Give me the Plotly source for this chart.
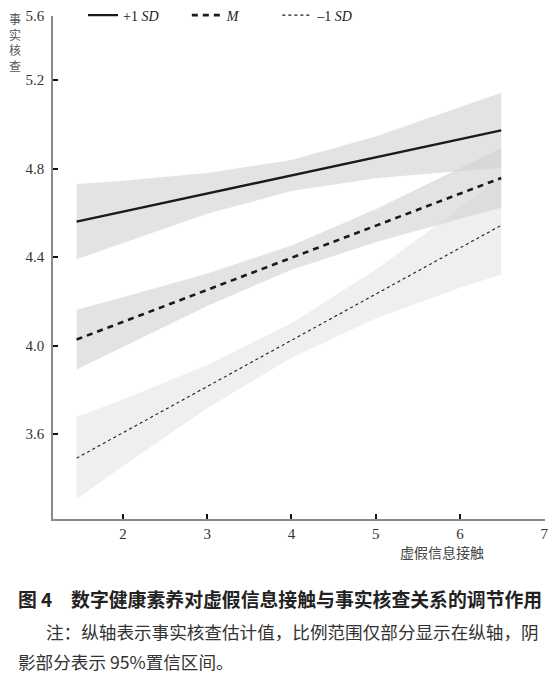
import plotly.graph_objects as go

# ---------------- data ----------------
x_grid = [1.45, 2.0, 3.0, 4.0, 5.0, 6.0, 6.49]

line_hi = [4.561, 4.606, 4.688, 4.769, 4.851, 4.933, 4.973]   # +1 SD
upper_hi = [4.731, 4.746, 4.780, 4.839, 4.945, 5.076, 5.143]
lower_hi = [4.391, 4.466, 4.596, 4.699, 4.757, 4.790, 4.803]

line_m = [4.028, 4.108, 4.253, 4.398, 4.542, 4.687, 4.758]    # M
upper_m = [4.163, 4.219, 4.326, 4.453, 4.617, 4.800, 4.893]
lower_m = [3.893, 3.997, 4.180, 4.343, 4.468, 4.574, 4.623]

line_lo = [3.492, 3.607, 3.815, 4.024, 4.233, 4.442, 4.544]   # -1 SD
upper_lo = [3.678, 3.757, 3.913, 4.102, 4.343, 4.622, 4.766]
lower_lo = [3.306, 3.457, 3.717, 3.946, 4.123, 4.262, 4.322]

series_names = ["+1 <i>SD</i>", "<i>M</i>", "–1 <i>SD</i>"]

x_tickvals = [2, 3, 4, 5, 6, 7]
x_ticktext = ["2", "3", "4", "5", "6", "7"]
y_tickvals = [3.6, 4.0, 4.4, 4.8, 5.2, 5.49]   # top tick: truncated scale
y_ticktext = ["3.6", "4.0", "4.4", "4.8", "5.2", "5.6"]
x_range = [1.17, 7.01]
y_range = [3.217, 5.49]

x_title = "虚假信息接触"
y_title = "事实核查"
fig_title = "<b>图 4　数字健康素养对虚假信息接触与事实核查关系的调节作用</b>"
note1 = "注：纵轴表示事实核查估计值，比例范围仅部分显示在纵轴，阴"
note2 = "影部分表示 95%置信区间。"

# ---------------- figure ----------------
fig = go.Figure()

bands = [
    (upper_lo, lower_lo, "rgba(222,226,225,0.50)"),
    (upper_m, lower_m, "rgba(208,209,211,0.60)"),
    (upper_hi, lower_hi, "rgba(208,209,211,0.60)"),
]
for up, lo, col in bands:
    fig.add_trace(go.Scatter(
        x=x_grid + x_grid[::-1], y=up + lo[::-1],
        fill="toself", fillcolor=col, mode="lines",
        line=dict(width=0), hoverinfo="skip", showlegend=False))

lines = [
    (line_hi, dict(color="#1a1a1a", width=2.4, dash="solid"), "legend"),
    (line_m, dict(color="#1a1a1a", width=2.6, dash="6px,5px"), "legend2"),
    (line_lo, dict(color="#1a1a1a", width=1.1, dash="3px,3px"), "legend3"),
]
for (ys, ln, lg), nm in zip(lines, series_names):
    fig.add_trace(go.Scatter(x=x_grid, y=ys, mode="lines", line=ln,
                             name=nm, legend=lg))

serif = "Liberation Serif"
cjk = "Noto Sans CJK SC"

axis_common = dict(
    showgrid=False, zeroline=False, showline=True,
    linecolor="#8a8a8a", linewidth=1.6,
    ticks="inside", ticklen=5, tickwidth=1.6, tickcolor="#111",
    tickfont=dict(family=serif, size=15, color="#333"),
)
fig.update_xaxes(range=x_range, tickvals=x_tickvals, ticktext=x_ticktext,
                 ticklabelstandoff=0, **axis_common)
fig.update_yaxes(range=y_range, tickvals=y_tickvals, ticktext=y_ticktext,
                 ticklabelstandoff=4, **axis_common)

leg_common = dict(orientation="h", yanchor="middle", xanchor="left",
                  bgcolor="rgba(0,0,0,0)", borderwidth=0,
                  font=dict(family=serif, size=14, color="#222"))
# page body has an 8px margin, so the figure is 8px smaller than the window
fig.update_layout(
    width=548, height=678,
    margin=dict(l=45, r=11, t=8, b=167, autoexpand=False),
    paper_bgcolor="white", plot_bgcolor="white",
    legend=dict(x=0.061, y=1.001, **leg_common),
    legend2=dict(x=0.272, y=1.001, **leg_common),
    legend3=dict(x=0.456, y=1.001, **leg_common),
)

ann = [
    dict(text="<br>".join(list(y_title)), xref="paper", yref="paper",
         x=-0.077, y=1.0155, xanchor="center", yanchor="top",
         showarrow=False, align="center",
         font=dict(family=cjk, size=12, color="#555")),
    dict(text=x_title, xref="paper", yref="paper", x=0.79, y=-0.041,
         xanchor="center", yanchor="top", showarrow=False,
         font=dict(family=cjk, size=14, color="#444")),
    dict(text=fig_title, xref="paper", yref="paper", x=-0.076, y=-0.127,
         xanchor="left", yanchor="top", showarrow=False,
         font=dict(family=cjk, size=18.85, color="#222")),
    dict(text=note1, xref="paper", yref="paper", x=-0.018, y=-0.195,
         xanchor="left", yanchor="top", showarrow=False,
         font=dict(family=cjk, size=17.6, color="#333")),
    dict(text=note2, xref="paper", yref="paper", x=-0.076, y=-0.255,
         xanchor="left", yanchor="top", showarrow=False,
         font=dict(family=cjk, size=17.6, color="#333")),
]
fig.update_layout(annotations=ann)

fig.write_html("out.html")
